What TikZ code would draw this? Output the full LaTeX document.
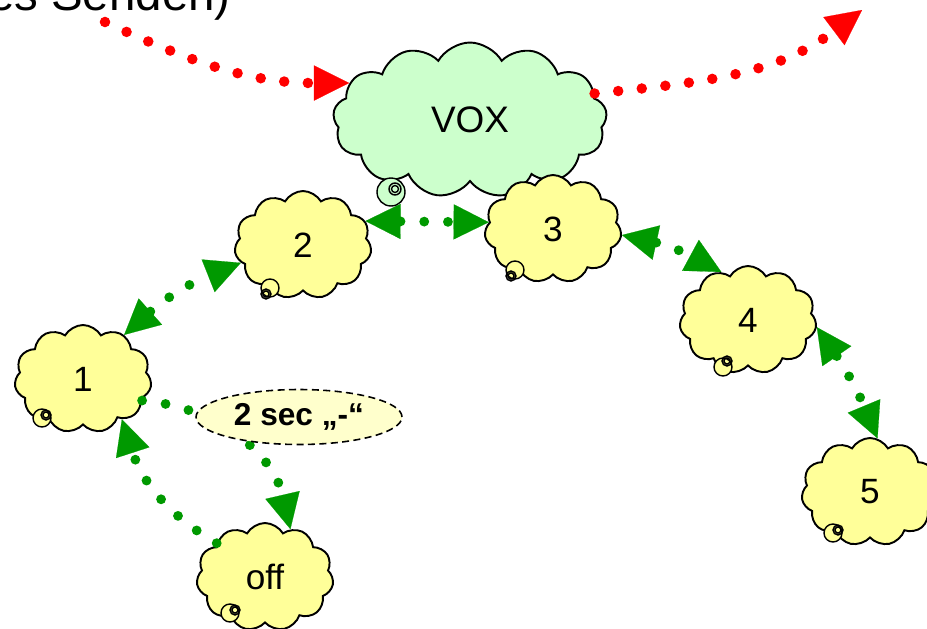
\documentclass[tikz,border=0pt]{standalone}
\usepackage{fontspec}
\setmainfont{Liberation Sans}
\usetikzlibrary{arrows.meta,shapes.symbols,shapes.geometric}
\definecolor{voxgreen}{RGB}{204,255,204}
\definecolor{stateyellow}{RGB}{255,255,153}
\definecolor{notelight}{RGB}{255,255,204}
\definecolor{flowgreen}{RGB}{0,153,0}
\tikzset{
	state/.style={cloud, cloud puffs=11, cloud puff arc=120, cloud ignores aspect, draw=black, line width=1.1pt, fill=stateyellow, minimum width=2.74cm, minimum height=2.16cm, inner sep=0pt, font=\fontsize{20}{24}\selectfont},
	voxcloud/.style={state, cloud puffs=13, fill=voxgreen, minimum width=5.48cm, minimum height=3.1cm, font=\fontsize{21}{25}\selectfont},
	flow/.style={line width=5.6pt, line cap=round, dash pattern=on 0pt off 13.5pt, draw=flowgreen, >={Triangle[length=20pt, width=20pt, line width=0.1pt]}},
	redflow/.style={flow, draw=red, line width=6pt}
}
\def\bubble(#1)(#2)#3{\draw[line width=0.8pt, fill=#3] (#1) circle (0.18cm); \draw[line width=0.8pt] (#2) circle (0.1cm) circle (0.06cm);}

\begin{document}
\begin{tikzpicture}[x=0.02cm, y=0.02cm]
		%%%%% START %%%%%
		\useasboundingbox (0,0) rectangle (927,-629);
		\clip (0,0) rectangle (927,-629);
		
		\node[anchor=base east, inner sep=0pt, font=\fontsize{27}{32}\selectfont] (caption) at (231,-10) {es Senden)};
		
		\node[voxcloud] (vox) at (470,-120) {VOX};
		\draw[line width=0.8pt, fill=voxgreen] (391,-192) circle (0.28cm);
		\draw[line width=0.8pt] (395,-189) circle (0.12cm) circle (0.07cm);
		
		\node[state] (c1) at (83,-379) {1};
		\bubble(42,-418)(46,-415){stateyellow}
		\node[state] (c2) at (303,-245) {2};
		\bubble(270,-288)(266,-294){stateyellow}
		\node[state] (c3) at (553,-229) {3};
		\bubble(515,-270)(511,-276){stateyellow}
		\node[state] (c4) at (748,-320) {4};
		\bubble(723,-367)(727,-361){stateyellow}
		\node[state] (c5) at (870,-492) {5};
		\bubble(833,-533)(838,-530){stateyellow}
		\node[state] (off) at (265,-577) {off};
		\bubble(230,-613)(235,-610){stateyellow}
		
		\coordinate (redin) at (105,-22);
		\coordinate (redout) at (862,-10);
		\draw[redflow, ->] (redin) to[out=-25, in=180] (vox.163);
		\draw[redflow, ->] (vox.12) to[out=6, in=217] (redout);
		
		\draw[flow, <->] (c1.47) to[bend left=10] (c2.196);
		\draw[flow, <->] (c2.21) -- (c3.174);
		\draw[flow, <->] (c3.-5) to[bend left=8] (c4.119);
		\draw[flow, <->] (c4.-6) to[bend left=6] (c5.82);
		\draw[flow, ->] (c1.-20) to[out=-5, in=103] (off.62);
		\draw[flow, ->] (off.145) to[out=150, in=-72] (c1.-46);
		
		\node[ellipse, draw, line width=0.9pt, dash pattern=on 4pt off 2.5pt, fill=notelight, minimum width=4.12cm, minimum height=1.1cm, inner sep=0pt, font=\bfseries\fontsize{18}{22}\selectfont] (hold) at (299,-417) {2 sec „-“};
		
		%%%%% END %%%%%
	\end{tikzpicture}
\end{document}
